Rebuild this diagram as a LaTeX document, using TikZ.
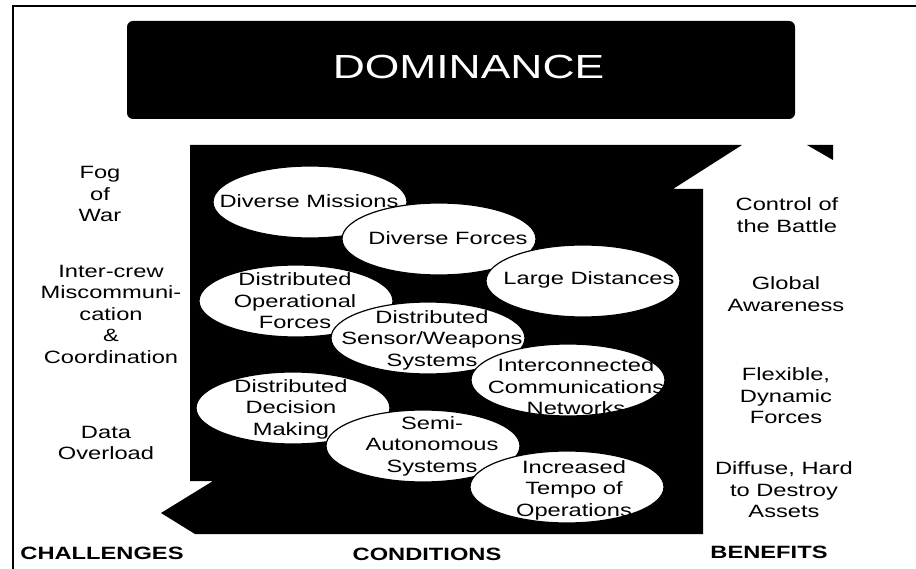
\documentclass[tikz,border=0pt]{standalone}
\usepackage{fontspec}
\setmainfont{Liberation Sans}[FakeStretch=1.33]
\usetikzlibrary{shapes.geometric}
\begin{document}
\begin{tikzpicture}[x=1pt,y=-1pt,
  oval/.style={ellipse, draw=black, line width=1.2pt, fill=white, minimum width=194pt, minimum height=72pt, inner sep=0pt},
  ovaltext/.style={align=center, font=\fontsize{17.8}{21.5}\selectfont, inner sep=0pt},
  side/.style={align=center, font=\fontsize{17.8}{21.5}\selectfont, inner sep=0pt},
  heading/.style={font=\fontsize{17.8}{21.5}\selectfont\bfseries, inner sep=0pt}]
\useasboundingbox (0,0) rectangle (916,569);
% frame
\draw[line width=1.8pt] (13,569) -- (13,6) -- (916,6);
% dominance box
\node[fill=black, rounded corners=6pt, minimum width=668pt, minimum height=98pt, inner sep=0pt] (dom) at (461,70) {};
\node[text=white, font=\fontsize{33.4}{36}\selectfont, inner sep=0pt] (domtext) at (468.5,67) {DOMINANCE};
% black arrow region
\fill[black] (190,145) -- (742,145) -- (673,189) -- (703,189) -- (703,534) -- (195,534) -- (161,513) -- (213,481) -- (190,481) -- cycle;
\fill[black] (807,145) -- (833,145) -- (833,160) -- cycle;
% ellipses
\node[oval] (e1) at (310,202) {};
\node[ovaltext] (t1) at (309,201) {Diverse Missions};
\node[oval] (e2) at (439,239) {};
\node[ovaltext] (t2) at (448,238) {Diverse Forces};
\node[oval] (e3) at (583,281) {};
\node[ovaltext] (t3) at (589,280) {Large Distances};
\node[oval] (e4) at (296,301) {};
\node[ovaltext] (t4) at (295,301) {Distributed\\Operational\\Forces};
\node[oval] (e5) at (428,338) {};
\node[ovaltext] (t5) at (432,340) {Distributed\\Sensor/Weapons\\Systems};
\node[oval] (e6) at (568,380) {};
\node[ovaltext] (t6) at (576,387) {Interconnected\\Communications\\Networks};
\node[oval] (e7) at (293,408) {};
\node[ovaltext] (t7) at (291,409) {Distributed\\Decision\\Making};
\node[oval] (e8) at (423,446) {};
\node[ovaltext] (t8) at (432,446) {Semi-\\Autonomous\\Systems};
\node[oval] (e9) at (567,487) {};
\node[ovaltext] (t9) at (574,490) {Increased\\Tempo of\\Operations};
% challenges
\node[side] (c1) at (100,194) {Fog\\of\\War};
\node[side] (c2) at (111,314) {Inter-crew\\Miscommuni-\\cation\\\&\\Coordination};
\node[side] (c3) at (106,443) {Data\\Overload};
% benefits
\node[side] (b1) at (787,215) {Control of\\the Battle};
\node[side] (b2) at (786,294) {Global\\Awareness};
\node[side] (b3) at (786,396) {Flexible,\\Dynamic\\Forces};
\node[side] (b4) at (784,490) {Diffuse, Hard\\to Destroy\\Assets};
% headings
\node[heading] (h1) at (102,553) {CHALLENGES};
\node[heading] (h2) at (427,554) {CONDITIONS};
\node[heading] (h3) at (769,552) {BENEFITS};
\end{tikzpicture}
\end{document}
